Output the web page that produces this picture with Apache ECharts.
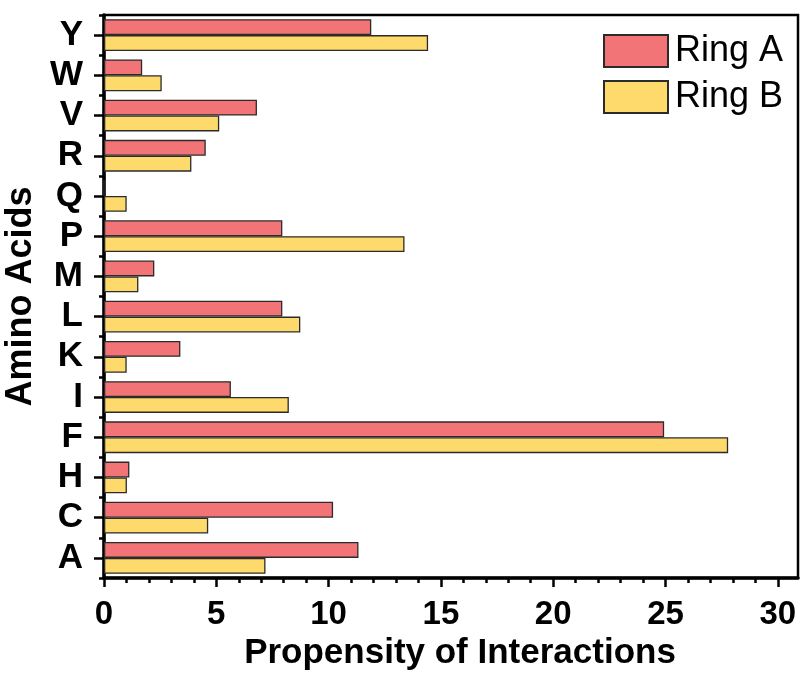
<!DOCTYPE html>
<html>
<head>
<meta charset="utf-8">
<script src="https://cdn.jsdelivr.net/npm/echarts@6/dist/echarts.min.js"></script>
<style>html,body{margin:0;padding:0;background:#fff;}#c{width:800px;height:673px;}</style>
</head>
<body>
<div id="c"></div>
<script>
const categories = ['A','C','H','F','I','K','L','M','P','Q','R','V','W','Y'];
const ringA = [11.33, 10.2, 1.13, 24.94, 5.65, 3.40, 7.94, 2.24, 7.94, 0, 4.53, 6.81, 1.70, 11.9];
const ringB = [7.19, 4.64, 1.02, 27.79, 8.23, 1.01, 8.74, 1.53, 13.38, 1.01, 3.89, 5.13, 2.57, 14.43];
const majorTicks = [0, 5, 10, 15, 20, 25, 30];
const minorTicks = [1,2,3,4,6,7,8,9,11,12,13,14,16,17,18,19,21,22,23,24,26,27,28,29];

const FONT = '"Liberation Sans", Arial, sans-serif';
const chart = echarts.init(document.getElementById('c'));
chart.setOption({
  animation: false,
  backgroundColor: '#fff',
  grid: { left: 104, top: 15, right: 2, bottom: 95, show: true, borderColor: '#000', borderWidth: 2.5, backgroundColor: 'transparent', outerBoundsMode: 'none', containLabel: false },
  legend: {
    orient: 'vertical', left: 603, top: 33, padding: 0, itemWidth: 64, itemHeight: 32, itemGap: 10,
    icon: 'rect',
    textStyle: { fontFamily: FONT, fontSize: 36, lineHeight: 36, color: '#000', padding: [0, 0, 0, 2] },
    data: ['Ring A', 'Ring B']
  },
  xAxis: [{
    type: 'value', min: 0, max: 30.9,
    position: 'bottom',
    axisLine: { show: true, onZero: false, lineStyle: { color: '#000', width: 3.5 } },
    axisTick: { show: true, length: 9, inside: false, lineStyle: { color: '#000', width: 2.5 }, customValues: majorTicks },
    axisLabel: { fontFamily: FONT, fontWeight: 'bold', fontSize: 33, color: '#000', margin: 20, customValues: majorTicks },
    splitLine: { show: false },
    name: 'Propensity of Interactions', nameLocation: 'middle', nameGap: 47,
    nameTextStyle: { fontFamily: FONT, fontWeight: 'bold', fontSize: 35, color: '#000', padding: [0, 0, 0, 18] }
  }, {
    type: 'value', min: 0, max: 30.9,
    position: 'bottom', offset: 0,
    axisLine: { show: false, onZero: false },
    axisTick: { show: true, length: 5, lineStyle: { color: '#000', width: 2.5 }, customValues: minorTicks },
    axisLabel: { show: false },
    splitLine: { show: false }
  }],
  yAxis: [{
    type: 'category', data: categories, position: 'left',
    axisLine: { show: true, onZero: false, lineStyle: { color: '#000', width: 3.5 } },
    axisTick: { show: true, alignWithLabel: true, interval: 0, length: 10, lineStyle: { color: '#000', width: 2.5 } },
    axisLabel: { interval: 0, fontFamily: FONT, fontWeight: 'bold', fontSize: 35, color: '#000', margin: 21 },
    name: 'Amino Acids', nameLocation: 'middle', nameGap: 60, nameRotate: 90,
    nameTextStyle: { fontFamily: FONT, fontWeight: 'bold', fontSize: 36, color: '#000' }
  }, {
    type: 'category', data: categories, position: 'left', offset: 0,
    axisLine: { show: false, onZero: false },
    axisTick: { show: true, interval: 0, length: 5, lineStyle: { color: '#000', width: 2.5 } },
    axisLabel: { show: false }
  }],
  series: [{
    name: 'Ring A', type: 'bar', data: ringA, xAxisIndex: 0, yAxisIndex: 0,
    barGap: '0%', barCategoryGap: '21%',
    itemStyle: { color: '#F37476', borderColor: '#2b2b2b', borderWidth: 1.3 }
  }, {
    name: 'Ring B', type: 'bar', data: ringB, xAxisIndex: 0, yAxisIndex: 0,
    barGap: '0%', barCategoryGap: '21%',
    itemStyle: { color: '#FED96B', borderColor: '#2b2b2b', borderWidth: 1.3 }
  }]
});
</script>
</body>
</html>
